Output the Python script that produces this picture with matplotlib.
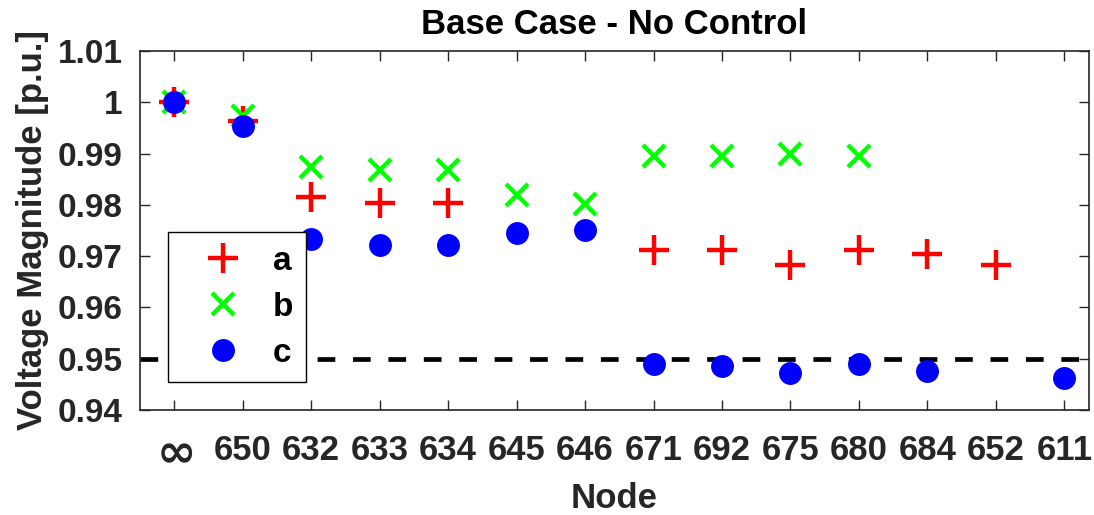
import numpy as np
import matplotlib
matplotlib.use("Agg")
import matplotlib.pyplot as plt
from matplotlib.transforms import ScaledTranslation

plt.rcParams['font.family'] = ['Liberation Sans', 'DejaVu Sans']
plt.rcParams['font.weight'] = 'bold'

nodes = [r"$\infty$", "650", "632", "633", "634", "645", "646",
         "671", "692", "675", "680", "684", "652", "611"]
nan = np.nan
phase_a = [1.0000, 0.9964, 0.9816, 0.9804, 0.9804, nan, nan,
           0.9712, 0.9712, 0.9682, 0.9712, 0.9705, 0.9683, nan]
phase_b = [1.0000, 0.9973, 0.9873, 0.9867, 0.9867, 0.9819, 0.9801,
           0.9896, 0.9896, 0.9900, 0.9895, nan, nan, nan]
phase_c = [1.0000, 0.9954, 0.9733, 0.9722, 0.9722, 0.9746, 0.9751,
           0.9489, 0.9485, 0.9472, 0.9489, 0.9476, nan, 0.9463]
v_limit = 0.95

fig = plt.figure(figsize=(10.94, 5.15), dpi=100)
ax = fig.add_axes([140/1094, 1 - 410/515, 949/1094, 359/515])

x = np.arange(len(nodes))
ax.plot(x, phase_a, linestyle='none', marker='+', color=(1, 0, 0),
        markersize=22, markeredgewidth=3.2, label='a', zorder=3)
ax.plot(x, phase_b, linestyle='none', marker='x', color=(0, 1, 0),
        markersize=16, markeredgewidth=3.2, label='b', zorder=3)
ax.plot(x, phase_c, linestyle='none', marker='o', color=(0, 0, 1),
        markersize=16.5, markeredgewidth=0, label='c', zorder=4)
ax.axhline(v_limit, color='black', linewidth=3.4, dashes=(3.75, 3.75), zorder=2)

ax.set_xlim(-0.5, 13.36)
ax.set_ylim(0.94, 1.01)
ax.set_yticks(np.arange(0.94, 1.0101, 0.01))
ax.set_yticklabels(["0.94", "0.95", "0.96", "0.97", "0.98", "0.99", "1", "1.01"])
ax.set_xticks(x)
ax.set_xticklabels(nodes)

axis_col = (0.15, 0.15, 0.15)
for s in ax.spines.values():
    s.set_color(axis_col)
    s.set_linewidth(1.2)
ax.tick_params(direction='in', length=7, width=1.0, color=axis_col,
               top=True, right=True, labelcolor=axis_col)
ax.tick_params(axis='y', labelsize=24, pad=12.5)
ax.tick_params(axis='x', labelsize=25, pad=17.5)
# the infinity symbol is set in regular weight, a larger size, nudged up a little
inf_label = ax.get_xticklabels()[0]
inf_label.set_fontsize(34)
inf_label.set_fontweight('normal')
inf_label.set_transform(inf_label.get_transform()
                        + ScaledTranslation(0, 3 / 100, fig.dpi_scale_trans))

ax.set_title("Base Case - No Control", fontsize=25, fontweight='bold', pad=12)
ax.set_xlabel("Node", fontsize=25, fontweight='bold', color=axis_col)
ax.xaxis.set_label_coords(0.5, -0.247)
ax.xaxis.label.set_va('center')
ax.set_ylabel("Voltage Magnitude [p.u.]", fontsize=25, fontweight='bold',
              color=axis_col, labelpad=6)

leg = ax.legend(loc='lower left', bbox_to_anchor=(0.0298, 0.078), borderaxespad=0,
                fontsize=24, frameon=True, fancybox=False, edgecolor='black',
                framealpha=1.0, borderpad=0.4, handlelength=2.46,
                handletextpad=0.27, labelspacing=0.45)
leg.get_frame().set_linewidth(1.0)

fig.savefig("out.png", dpi=100)
